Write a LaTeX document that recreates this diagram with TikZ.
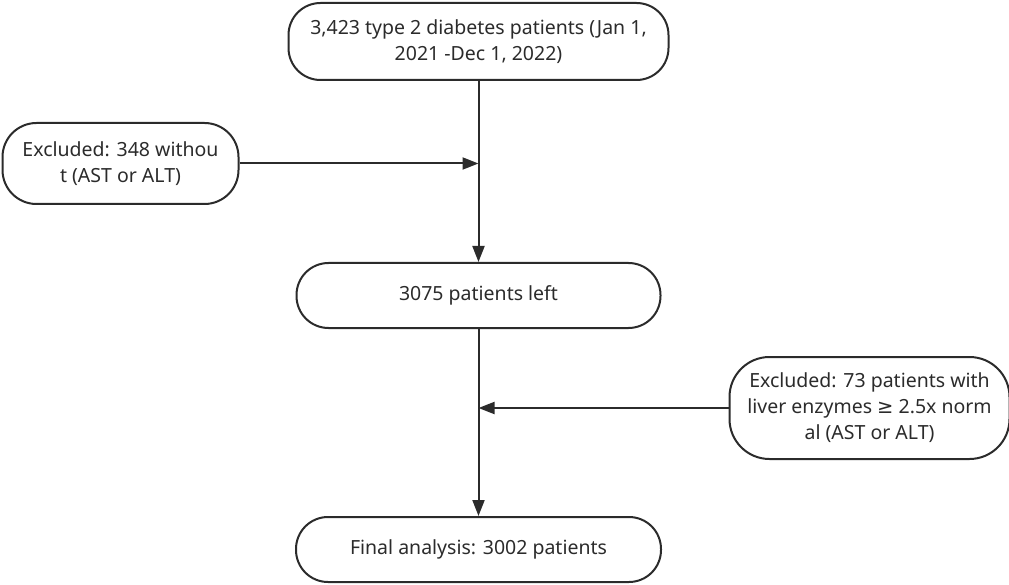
\documentclass[tikz,border=0pt]{standalone}
\usepackage{fontspec}
\setmainfont{Noto Sans}
\newfontfamily\symfont{DejaVu Sans}
\usepackage{tikz}
\usetikzlibrary{positioning,arrows.meta}
\definecolor{inkgray}{HTML}{2B2B2B}

\tikzset{
	stepbox/.style={draw=inkgray, line width=2pt, rounded corners=32pt,
		align=center, text=inkgray, inner sep=0pt, font=\fontsize{19.5}{26}\selectfont},
	flow/.style={draw=inkgray, line width=2pt, -{Triangle[length=16pt,width=12pt]}}
}

\begin{document}
\begin{tikzpicture}
		\useasboundingbox (0,0) rectangle (1009pt,-585pt);
		% Define nodes
		\node[stepbox, minimum width=380pt, minimum height=77pt] (start) at (478.5pt,-41.5pt)
			{3,423 type 2 diabetes patients (Jan 1,\\2021 -Dec 1, 2022)};
		\node[stepbox, minimum width=364pt, minimum height=65pt, below=181pt of start] (left)
			{3075 patients left};
		\node[stepbox, minimum width=365pt, minimum height=65pt, below=187pt of left] (final)
			{Final analysis: 3002 patients};

		\node[stepbox, minimum width=236pt, minimum height=81pt, rounded corners=34pt,
			below left=41pt and 48pt of start.south west] (excl1)
			{Excluded: 348 withou\\t (AST or ALT)};
		\node[stepbox, minimum width=280pt, minimum height=102pt, rounded corners=40pt,
			below right=27pt and 67pt of left.south east] (excl2)
			{Excluded: 73 patients with\\liver enzymes {\symfont ≥} 2.5x norm\\al (AST or ALT)};

		\coordinate (j1) at (start.south |- excl1.east);
		\coordinate (j2) at (left.south |- excl2.west);

		% Connect the nodes
		\draw[flow] (start.south) -- (left.north);
		\draw[flow] (left.south) -- (final.north);
		\draw[flow] (excl1.east) -- (j1);
		\draw[flow] (excl2.west) -- (j2);
\end{tikzpicture}
\end{document}
